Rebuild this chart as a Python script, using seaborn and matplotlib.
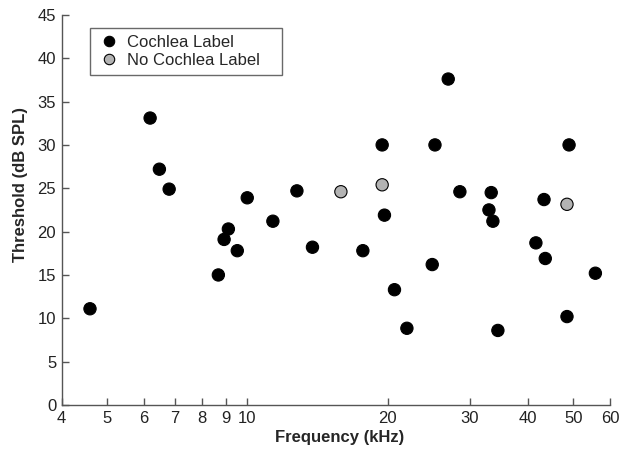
import numpy as np
import pandas as pd
import matplotlib
matplotlib.use("Agg")
import matplotlib.pyplot as plt
import seaborn as sns
from matplotlib.ticker import FixedLocator, FixedFormatter, NullLocator

# ------------------------------------------------------------
# Data
# ------------------------------------------------------------
freq_label = [4.60, 6.19, 6.48, 6.80, 8.67, 8.92, 9.11, 9.52, 10.0, 11.35,
              12.78, 13.8, 17.7, 19.47, 19.69, 20.69, 22.0, 24.93, 25.27, 26.98,
              28.58, 32.99, 33.36, 33.64, 34.48, 41.6, 43.3, 43.57, 48.5, 49.0,
              55.8]
thr_label = [11.1, 33.1, 27.2, 24.9, 15.0, 19.1, 20.3, 17.8, 23.9, 21.2,
             24.7, 18.2, 17.8, 30.0, 21.9, 13.3, 8.85, 16.2, 30.0, 37.6,
             24.6, 22.5, 24.5, 21.2, 8.6, 18.7, 23.7, 16.9, 10.2, 30.0,
             15.2]
freq_nolabel = [15.88, 19.47, 48.5]
thr_nolabel = [24.6, 25.4, 23.15]

x_ticks = [4, 5, 6, 7, 8, 9, 10, 20, 30, 40, 50, 60]
y_ticks = [0, 5, 10, 15, 20, 25, 30, 35, 40, 45]

df = pd.DataFrame({
    "Frequency": freq_label + freq_nolabel,
    "Threshold": thr_label + thr_nolabel,
    "Group": ["Cochlea Label"] * len(freq_label) + ["No Cochlea Label"] * len(freq_nolabel),
})

# ------------------------------------------------------------
# Plot
# ------------------------------------------------------------
sns.set_style("white")
plt.rcParams["font.family"] = ["Liberation Sans", "DejaVu Sans"]

fig = plt.figure(figsize=(6.27, 4.51), dpi=100)
ax = fig.add_axes([0.0984, 0.102, 0.8746, 0.865])

sns.scatterplot(data=df, x="Frequency", y="Threshold", hue="Group",
                palette={"Cochlea Label": "black", "No Cochlea Label": "#b3b3b3"},
                s=78, edgecolor="black", linewidth=0.8, ax=ax)

ax.set_xscale("log")
ax.set_xlim(4, 60)
ax.set_ylim(0, 45)
ax.xaxis.set_major_locator(FixedLocator(x_ticks))
ax.xaxis.set_major_formatter(FixedFormatter([str(t) for t in x_ticks]))
ax.xaxis.set_minor_locator(NullLocator())
ax.set_yticks(y_ticks)

for side in ["top", "right"]:
    ax.spines[side].set_visible(False)
for side in ["left", "bottom"]:
    ax.spines[side].set_color("#555555")
    ax.spines[side].set_linewidth(1.0)

ax.tick_params(axis="both", which="major", bottom=True, left=True,
               direction="in", length=5, width=1, color="#555555",
               labelsize=12, labelcolor="#222222", pad=4)

ax.set_xlabel("Frequency (kHz)", fontsize=12, fontweight="bold")
ax.set_ylabel("Threshold (dB SPL)", fontsize=12, fontweight="bold")
ax.xaxis.set_label_coords(0.506, -0.063)
ax.yaxis.set_label_coords(-0.062, 0.564)

# legend box like the original: fixed width, small markers
handles, labels = ax.get_legend_handles_labels()
ax.get_legend().remove()
leg = ax.legend(handles, labels, loc="upper left",
                bbox_to_anchor=(0.0516, 0.852, 0.350, 0.115), mode="expand",
                borderaxespad=0, frameon=True, fancybox=False,
                edgecolor="#444444", fontsize=12, handletextpad=0.38,
                borderpad=0.45, labelspacing=0.15, handlelength=1.4)
leg.get_frame().set_linewidth(1.0)
for h in leg.legend_handles:
    h.set_markersize(7.5)

fig.savefig("out.png", dpi=100)
